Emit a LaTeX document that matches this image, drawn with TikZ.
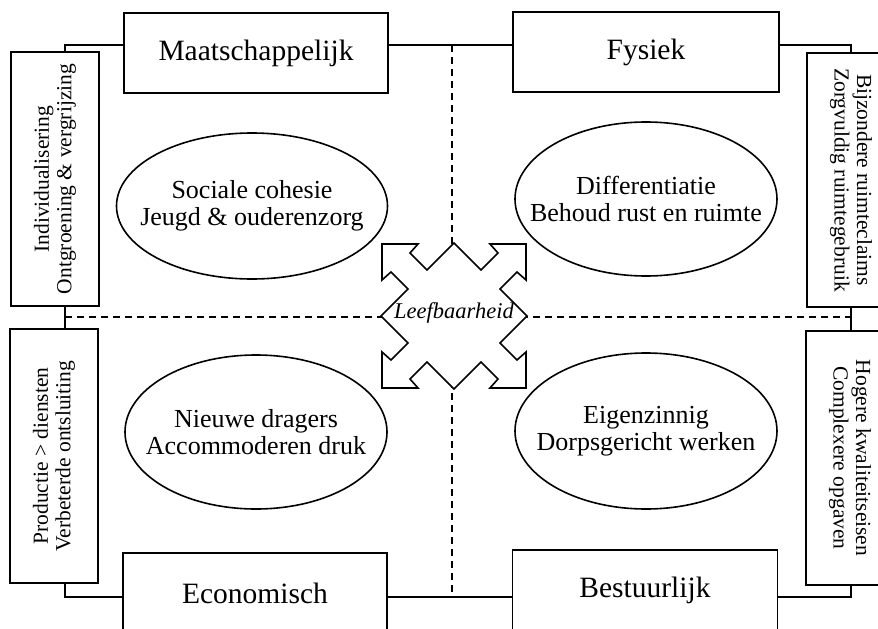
\documentclass[tikz,border=0pt]{standalone}
\usepackage{fontspec}
\setmainfont{Liberation Serif}
\usetikzlibrary{shapes.geometric}

\begin{document}
\begin{tikzpicture}[
    x=1pt, y=-1pt,
    line width=1.6pt,
    every node/.style={
        align=center
    },
    dimbox/.style={
        draw, fill=white, inner sep=0,
        minimum width=264, minimum height=80,
        font=\fontsize{29.5}{32}\selectfont
    },
    sidebox/.style={
        draw, fill=white, inner sep=0,
        minimum width=254, minimum height=88,
        font=\fontsize{21.5}{22.5}\selectfont
    },
    theme/.style={
        draw, ellipse, inner sep=0, inner xsep=-45pt,
        font=\fontsize{26}{27.5}\selectfont
    },
    axis/.style={
        dash pattern=on 7pt off 5pt
    }
]
    \useasboundingbox (0,0) rectangle (878,629);
    \clip (0,0) rectangle (878,629);

    % frame and axes
    \coordinate (ftl) at (65,45);
    \coordinate (fbr) at (851,597);
    \coordinate (axl) at (65,317);
    \coordinate (axr) at (851,317);
    \coordinate (axt) at (452,45);
    \coordinate (axb) at (452,597);

    \draw (ftl) rectangle (fbr);
    \draw[axis] (axl) -- (axr);
    \draw[axis] (axt) -- (axb);

    % central four-way arrow
    \draw[fill=white, shift={(454,316)}]
        (-73,0) -- (-46,-27) -- (-63,-44) -- (-72,-36) -- (-72,-72)
        -- (-36,-72) -- (-44,-63) -- (-27,-46) -- (0,-73)
        -- (27,-46) -- (44,-63) -- (36,-72) -- (72,-72)
        -- (72,-36) -- (63,-44) -- (46,-27) -- (73,0)
        -- (46,27) -- (63,44) -- (72,36) -- (72,72)
        -- (36,72) -- (44,63) -- (27,46) -- (0,73)
        -- (-27,46) -- (-44,63) -- (-36,72) -- (-72,72)
        -- (-72,36) -- (-63,44) -- (-46,27) -- cycle;
    \node[font=\fontsize{22.5}{24}\selectfont\itshape] (leef) at (454,313) {Leefbaarheid};

    % themes
    \node[theme, minimum width=271, minimum height=146] (cohesie) at (252,206)
        {Sociale cohesie\\Jeugd \& ouderenzorg};
    \node[theme, minimum width=262, minimum height=154] (differ) at (646,199)
        {Differentiatie\\Behoud rust en ruimte};
    \node[theme, minimum width=262, minimum height=154] (dragers) at (256,432)
        {Nieuwe dragers\\Accommoderen druk};
    \node[theme, minimum width=262, minimum height=156] (eigen) at (646,431)
        {Eigenzinnig\\Dorpsgericht werken};

    % dimensions
    \node[dimbox] (maat) at (256,53) {Maatschappelijk};
    \node[dimbox, minimum width=266] (fysiek) at (646,52) {Fysiek};
    \node[dimbox] (econ) at (255,593) {Economisch};
    \node[dimbox, minimum width=265] (bestuur) at (645,590) {Bestuurlijk};

    % trends
    \node[sidebox, rotate=90] (indiv) at (55,179)
        {Individualisering\\Ontgroening \& vergrijzing};
    \node[sidebox, rotate=90] (prod) at (54,456)
        {Productie > diensten\\Verbeterde ontsluiting};
    \node[sidebox, rotate=-90] (claims) at (851,180)
        {Bijzondere ruimteclaims\\Zorgvuldig ruimtegebruik};
    \node[sidebox, rotate=-90] (kwal) at (850,458)
        {Hogere kwaliteitseisen\\Complexere opgaven};
\end{tikzpicture}
\end{document}
